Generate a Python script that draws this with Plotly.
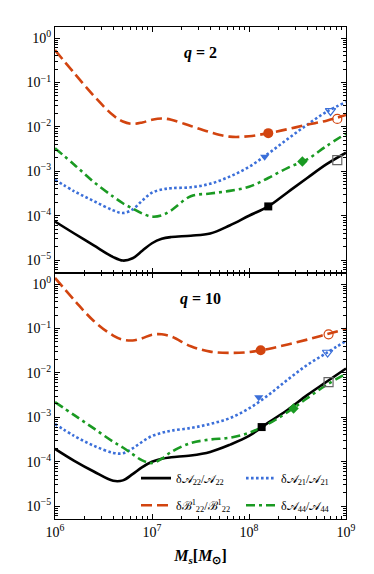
import plotly.graph_objects as go
from plotly.subplots import make_subplots

# ---------------- data ----------------
M_s = [1.0e6, 1.58e6, 2.51e6, 3.98e6, 5.01e6, 6.31e6, 7.94e6, 1.0e7, 1.26e7, 1.58e7,
       2.51e7, 3.98e7, 6.31e7, 1.0e8, 1.58e8, 2.51e8, 3.98e8, 6.31e8, 1.0e9]

# q = 2 panel
q2_A22 = [7.41e-5, 3.98e-5, 2.14e-5, 1.17e-5, 9.77e-6, 1.10e-5, 1.62e-5, 2.40e-5, 3.02e-5, 3.31e-5,
          3.55e-5, 3.98e-5, 6.03e-5, 1.0e-4, 1.62e-4, 3.39e-4, 7.08e-4, 1.45e-3, 2.63e-3]
q2_B22 = [0.537, 0.162, 0.0501, 0.0182, 0.0132, 0.0117, 0.0126, 0.0145, 0.0155, 0.0145,
          0.0105, 7.59e-3, 6.03e-3, 6.17e-3, 7.24e-3, 8.91e-3, 0.0112, 0.0138, 0.0186]
q2_A21 = [6.46e-4, 3.55e-4, 2.14e-4, 1.32e-4, 1.15e-4, 1.38e-4, 2.19e-4, 3.31e-4, 3.89e-4, 4.17e-4,
          4.37e-4, 5.25e-4, 7.59e-4, 1.26e-3, 2.51e-3, 5.37e-3, 0.0112, 0.0219, 0.0363]
q2_A44 = [3.31e-3, 1.41e-3, 5.75e-4, 2.69e-4, 1.91e-4, 1.45e-4, 1.12e-4, 9.55e-5, 1.02e-4, 1.32e-4,
          2.75e-4, 3.16e-4, 3.63e-4, 4.47e-4, 7.08e-4, 1.20e-3, 1.86e-3, 3.72e-3, 7.08e-3]

# q = 10 panel
q10_A22 = [1.95e-4, 1.05e-4, 6.03e-5, 3.72e-5, 3.80e-5, 5.25e-5, 7.59e-5, 1.0e-4, 1.17e-4, 1.26e-4,
           1.38e-4, 1.66e-4, 2.40e-4, 3.80e-4, 7.59e-4, 1.48e-3, 3.16e-3, 6.31e-3, 0.0126]
q10_B22 = [1.38, 0.437, 0.148, 0.0692, 0.0562, 0.0537, 0.0603, 0.0724, 0.0741, 0.0661,
           0.0398, 0.0302, 0.0282, 0.0295, 0.0347, 0.0437, 0.0562, 0.0741, 0.0977]
q10_A21 = [7.08e-4, 3.80e-4, 2.29e-4, 1.58e-4, 1.55e-4, 2.0e-4, 2.82e-4, 3.80e-4, 4.47e-4, 5.01e-4,
           5.75e-4, 7.08e-4, 9.55e-4, 1.58e-3, 3.16e-3, 7.08e-3, 0.0151, 0.0282, 0.0525]
q10_A44 = [2.19e-3, 1.12e-3, 5.62e-4, 2.82e-4, 2.09e-4, 1.48e-4, 1.07e-4, 9.33e-5, 1.17e-4, 1.66e-4,
           2.63e-4, 3.16e-4, 3.47e-4, 4.47e-4, 7.08e-4, 1.32e-3, 2.69e-3, 5.37e-3, 9.55e-3]

# marker points: (mass, value)
q2_filled = {"A22": (1.58e8, 1.62e-4), "B22": (1.58e8, 7.24e-3),
             "A21": (1.45e8, 2.14e-3), "A44": (3.55e8, 1.66e-3)}
q2_open = {"A22": (8.13e8, 1.78e-3), "B22": (8.13e8, 0.0151), "A21": (6.92e8, 0.0229)}
q10_filled = {"A22": (1.35e8, 6.03e-4), "B22": (1.32e8, 0.0324),
              "A21": (1.26e8, 2.82e-3), "A44": (2.88e8, 1.58e-3)}
q10_open = {"A22": (6.61e8, 6.17e-3), "B22": (6.61e8, 0.0741), "A21": (6.46e8, 0.0288)}

panel_titles = ["<b><i>q</i> = 2</b>", "<b><i>q</i> = 10</b>"]
labels = {"A22": "δ𝒜<sub>22</sub>/𝒜<sub>22</sub>",
          "A21": "δ𝒜<sub>21</sub>/𝒜<sub>21</sub>",
          "B22": "δℬ<sup>1</sup><sub>22</sub>/ℬ<sup>1</sup><sub>22</sub>",
          "A44": "δ𝒜<sub>44</sub>/𝒜<sub>44</sub>"}

x_tickvals = [1e6, 1e7, 1e8, 1e9]
x_ticktext = ["10<sup>6</sup>", "10<sup>7</sup>", "10<sup>8</sup>", "10<sup>9</sup>"]
y_tickvals = [1, 1e-1, 1e-2, 1e-3, 1e-4, 1e-5]
y_ticktext = ["10<sup>0</sup>", "10<sup>−1</sup>", "10<sup>−2</sup>", "10<sup>−3</sup>",
              "10<sup>−4</sup>", "10<sup>−5</sup>"]
minor_digits = [2, 3, 4, 5, 6, 7, 8, 9]
x_minor = [d * 10 ** e for e in (6, 7, 8) for d in minor_digits]
y_minor = [d * 10 ** e for e in (-6, -5, -4, -3, -2, -1, 0) for d in minor_digits]

# ---------------- styling ----------------
FONT = "Liberation Serif"
styles = {
    "A22": dict(color="black", dash="solid"),
    "A21": dict(color="#3b6fd9", dash="2.6px,2.4px"),
    "B22": dict(color="#d2440f", dash="11px,5px"),
    "A44": dict(color="#1a9a22", dash="9px,4px,3px,4px"),
}
filled_sym = {"A22": "square", "B22": "circle", "A21": "triangle-down", "A44": "diamond"}
open_sym = {"A22": "square-open", "B22": "circle-open", "A21": "triangle-down-open"}
open_col = {"A22": "#666666", "B22": "#d2440f", "A21": "#3b6fd9"}
filled_size = {"A22": 8, "B22": 10, "A21": 8, "A44": 8}
legend_of = {"A22": "legend", "A21": "legend", "B22": "legend2", "A44": "legend2"}

fig = make_subplots(rows=2, cols=1, shared_xaxes=True, vertical_spacing=0)

panels = [
    (1, {"A22": q2_A22, "A21": q2_A21, "B22": q2_B22, "A44": q2_A44}, q2_filled, q2_open),
    (2, {"A22": q10_A22, "A21": q10_A21, "B22": q10_B22, "A44": q10_A44}, q10_filled, q10_open),
]
order = ["A22", "A21", "B22", "A44"]
for row, series, filled, opened in panels:
    for key in order:
        st = styles[key]
        fig.add_trace(go.Scatter(
            x=M_s, y=series[key], mode="lines", name=labels[key],
            line=dict(color=st["color"], dash=st["dash"], width=2.6, shape="spline", smoothing=1.0),
            showlegend=(row == 2), legend=legend_of[key]), row=row, col=1)
    for key, (mx, my) in filled.items():
        fig.add_trace(go.Scatter(
            x=[mx], y=[my], mode="markers", showlegend=False,
            marker=dict(symbol=filled_sym[key], size=filled_size[key], color=styles[key]["color"])),
            row=row, col=1)
    for key, (mx, my) in opened.items():
        fig.add_trace(go.Scatter(
            x=[mx], y=[my], mode="markers", showlegend=False,
            marker=dict(symbol=open_sym[key], size=9, color=open_col[key],
                        line=dict(width=1.2, color=open_col[key]))),
            row=row, col=1)

axis_common = dict(type="log", showgrid=False, zeroline=False, showline=True, linecolor="black",
                   linewidth=1.3, mirror="allticks", ticks="inside", ticklen=5, tickwidth=1,
                   tickcolor="black", tickmode="array",
                   tickfont=dict(family=FONT, size=14, color="black"))

fig.update_xaxes(**axis_common, range=[6, 9], tickvals=x_tickvals, ticktext=x_ticktext,
                 minor=dict(ticks="inside", ticklen=2.5, tickwidth=0.8, tickcolor="black",
                            tickmode="array", tickvals=x_minor, showgrid=False))
fig.update_xaxes(showticklabels=False, row=1, col=1)
fig.update_xaxes(title=dict(text="<b><i>M<sub>s</sub></i>[<i>M</i><sub>⊙</sub>]</b>",
                            font=dict(family=FONT, size=16, color="black"), standoff=10), row=2, col=1)
fig.update_yaxes(**axis_common, range=[-5.29, 0.25], tickvals=y_tickvals, ticktext=y_ticktext,
                 minor=dict(ticks="inside", ticklen=2.5, tickwidth=0.8, tickcolor="black",
                            tickmode="array", tickvals=y_minor, showgrid=False))

for i, t in enumerate(panel_titles):
    fig.add_annotation(text=t, xref="x domain" if i == 0 else "x2 domain",
                       yref="y domain" if i == 0 else "y2 domain",
                       x=0.5, y=0.895, xanchor="center", yanchor="middle", showarrow=False,
                       font=dict(family=FONT, size=16, color="black"))

legend_common = dict(orientation="h", xanchor="right", yanchor="middle",
                     entrywidth=60, entrywidthmode="pixels", bgcolor="rgba(0,0,0,0)",
                     font=dict(family=FONT, size=12, color="black"), itemwidth=30,
                     borderwidth=0)

fig.update_layout(
    width=366, height=566,
    margin=dict(l=47, r=28, t=19, b=55),
    paper_bgcolor="white", plot_bgcolor="white",
    font=dict(family=FONT, color="black"),
    legend=dict(**legend_common, x=1.0, y=0.083),
    legend2=dict(**legend_common, x=1.0, y=0.028),
)

fig.write_html("out.html")
